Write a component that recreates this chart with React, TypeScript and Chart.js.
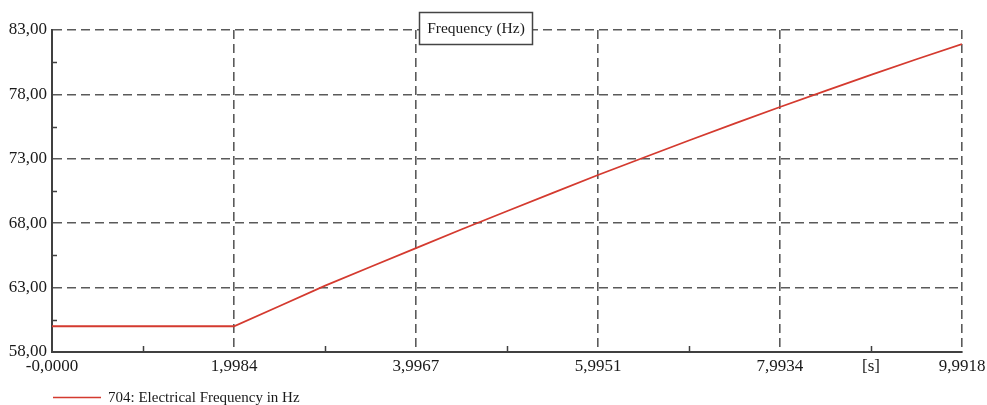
import React, { useEffect, useRef } from "react";
import { Chart, registerables } from "chart.js";

Chart.register(...registerables);

// ---- data ----
const timeSeconds = [0, 1.9984, 2.5, 3.0, 3.5, 3.9967, 4.5, 5.0, 5.5, 5.9951, 6.5, 7.0, 7.5, 7.9934, 8.5, 9.0, 9.5, 9.9918];
const frequencyHz = [60.0, 60.0, 61.57, 63.15, 64.62, 66.07, 67.53, 68.95, 70.36, 71.74, 73.1, 74.44, 75.75, 77.02, 78.3, 79.53, 80.75, 81.9];

const xTickValues = [0, 1.9984, 3.9967, 5.9951, 7.9934, 8.9926, 9.9918];
const xTickLabels = ["-0,0000", "1,9984", "3,9967", "5,9951", "7,9934", "[s]", "9,9918"];
const xUnitTickIndex = 5;
const xMinorTicks = [0.9992, 2.99755, 4.9959, 6.99425, 8.9926];

const yTickValues = [58, 63, 68, 73, 78, 83];
const yTickLabels = ["58,00", "63,00", "68,00", "73,00", "78,00", "83,00"];
const yMinorTicks = [60.5, 65.5, 70.5, 75.5, 80.5];

const chartTitle = "Frequency (Hz)";
const seriesLabel = "704: Electrical Frequency in Hz";

const FONT = "'Liberation Serif', 'Times New Roman', serif";
const LINE_COLOR = "#d43a2f";
const GRID_COLOR = "#5a5a5a";
const AXIS_COLOR = "#404040";

const decorPlugin = {
  id: "decor",
  afterDraw(chart: any) {
    const ctx = chart.ctx as CanvasRenderingContext2D;
    const area = chart.chartArea;
    const xs = chart.scales.x;
    const ys = chart.scales.y;
    ctx.save();
    // minor ticks inside
    ctx.strokeStyle = AXIS_COLOR;
    ctx.lineWidth = 1.5;
    ctx.beginPath();
    xMinorTicks.forEach((v) => {
      const px = Math.round(xs.getPixelForValue(v)) + 0.5;
      ctx.moveTo(px, area.bottom);
      ctx.lineTo(px, area.bottom - 6);
    });
    yMinorTicks.forEach((v) => {
      const py = Math.round(ys.getPixelForValue(v)) + 0.5;
      ctx.moveTo(area.left, py);
      ctx.lineTo(area.left + 5, py);
    });
    ctx.stroke();

    // title box
    const bx = 419, by = 12, bw = 113, bh = 32;
    ctx.fillStyle = "#ffffff";
    ctx.fillRect(bx, by, bw, bh);
    ctx.strokeStyle = "#444444";
    ctx.lineWidth = 1.5;
    ctx.strokeRect(bx + 0.5, by + 0.5, bw, bh);
    ctx.fillStyle = "#1a1a1a";
    ctx.font = "15.5px " + FONT;
    ctx.textAlign = "center";
    ctx.textBaseline = "middle";
    ctx.fillText(chartTitle, bx + bw / 2 + 0.5, by + bh / 2 + 1);

    // legend
    const ly = 397;
    ctx.strokeStyle = LINE_COLOR;
    ctx.lineWidth = 1.5;
    ctx.beginPath();
    ctx.moveTo(53, ly + 0.5);
    ctx.lineTo(101, ly + 0.5);
    ctx.stroke();
    ctx.fillStyle = "#1a1a1a";
    ctx.font = "15px " + FONT;
    ctx.textAlign = "left";
    ctx.fillText(chart.data.datasets[0].label, 108, ly + 1);
    ctx.restore();
  },
};

export default function App() {
  const canvasRef = useRef<HTMLCanvasElement | null>(null);

  useEffect(() => {
    if (!canvasRef.current) return;
    const points = timeSeconds.map((t, i) => ({ x: t, y: frequencyHz[i] }));
    const chart = new Chart(canvasRef.current, {
      type: "line",
      data: {
        datasets: [
          {
            label: seriesLabel,
            data: points,
            borderColor: LINE_COLOR,
            borderWidth: 1.8,
            pointRadius: 0,
            tension: 0,
            fill: false,
          },
        ],
      },
      options: {
        animation: false,
        responsive: false,
        layout: { padding: { left: 0, top: 30, right: 25, bottom: 0 } },
        plugins: {
          legend: { display: false },
          title: { display: false },
          tooltip: { enabled: false },
        },
        scales: {
          x: {
            type: "linear",
            min: 0,
            max: 9.9918,
            afterBuildTicks: (s: any) => {
              s.ticks = xTickValues.map((v) => ({ value: v }));
            },
            afterFit: (s: any) => {
              s.height = 53;
              s.paddingLeft = 0;
              s.paddingRight = 0;
            },
            ticks: {
              autoSkip: false,
              maxRotation: 0,
              padding: 4,
              color: "#1a1a1a",
              font: { family: FONT, size: 17 },
              callback: (_v: any, i: number) => xTickLabels[i],
            },
            grid: {
              drawTicks: false,
              lineWidth: 1.6,
              color: (c: any) => (c.index === xUnitTickIndex ? "rgba(0,0,0,0)" : GRID_COLOR),
            },
            border: { display: true, color: AXIS_COLOR, width: 2, dash: [9, 5] },
          },
          y: {
            type: "linear",
            min: 58,
            max: 83,
            afterBuildTicks: (s: any) => {
              s.ticks = yTickValues.map((v) => ({ value: v }));
            },
            afterFit: (s: any) => {
              s.width = 52;
              s.paddingTop = 0;
              s.paddingBottom = 0;
            },
            ticks: {
              autoSkip: false,
              padding: 5,
              color: "#1a1a1a",
              font: { family: FONT, size: 17 },
              callback: (_v: any, i: number) => yTickLabels[i],
            },
            grid: {
              drawTicks: false,
              lineWidth: 1.6,
              color: GRID_COLOR,
            },
            border: { display: true, color: AXIS_COLOR, width: 2, dash: [9, 5] },
          },
        },
      } as any,
      plugins: [decorPlugin],
    });
    return () => chart.destroy();
  }, []);

  return (
    <div style={{ position: "absolute", left: 0, top: 0, width: 987, height: 405, background: "#ffffff" }}>
      <canvas ref={canvasRef} width={987} height={405} style={{ display: "block" }} />
    </div>
  );
}
